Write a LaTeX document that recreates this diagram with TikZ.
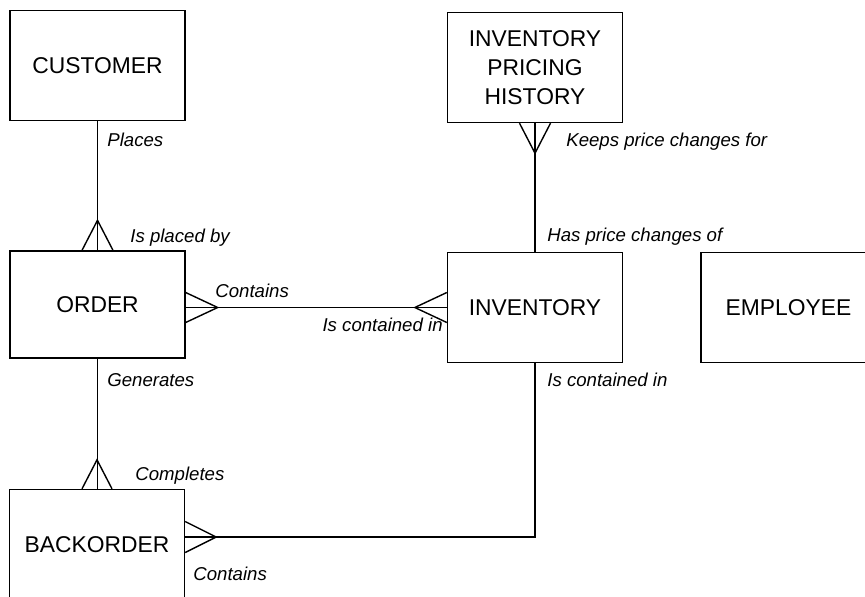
\documentclass[tikz,border=0pt]{standalone}
\usepackage{fontspec}
\setmainfont{Liberation Sans}
\begin{document}
\begin{tikzpicture}[x=0.02cm,y=-0.02cm,
  entity/.style={draw,line width=0.8pt,minimum width=3.5cm,minimum height=2.2cm,
    inner sep=0pt,align=center,font=\fontsize{13}{16.7}\selectfont},
  rel/.style={line width=0.8pt},
  role/.style={inner sep=0pt,font=\fontsize{10.6}{12}\selectfont\itshape}]
  \clip (0,0) rectangle (865,596);
  \node [entity] (cust) at (97.5,65.5) {CUSTOMER};
  \node [entity] (hist) at (535,67.5) {INVENTORY\\PRICING\\HISTORY};
  \node [entity,minimum height=2.14cm] (order) at (97.5,304.5) {ORDER};
  \node [entity] (inv) at (535,307.5) {INVENTORY};
  \node [entity] (emp) at (788.5,307.5) {EMPLOYEE};
  \node [entity] (back) at (97,544.5) {BACKORDER};
  % relationships
  \draw [rel] (cust.south) -- (order.north);
  \draw [rel] (order.east |- inv.west) -- (inv.west);
  \draw [rel] (hist.south) -- (inv.north);
  \draw [rel] (order.south) -- (order.south |- back.north);
  \draw [rel] (inv.south) |- ([yshift=0.15cm]back.east);
  % crow's feet
  \draw [rel] ([xshift=-0.31cm]order.north) -- ([yshift=0.6cm]order.north) -- ([xshift=0.31cm]order.north);
  \draw [rel] ([yshift=0.3cm]order.east |- inv.west) -- ([xshift=0.64cm]order.east |- inv.west) -- ([yshift=-0.3cm]order.east |- inv.west);
  \draw [rel] ([yshift=0.3cm]inv.west) -- ([xshift=-0.64cm]inv.west) -- ([yshift=-0.3cm]inv.west);
  \draw [rel] ([xshift=-0.31cm]hist.south) -- ([yshift=-0.6cm]hist.south) -- ([xshift=0.31cm]hist.south);
  \draw [rel] ([xshift=-0.3cm]back.north) -- ([yshift=0.58cm]back.north) -- ([xshift=0.3cm]back.north);
  \draw [rel] ([yshift=0.46cm]back.east) -- ([xshift=0.62cm,yshift=0.15cm]back.east) -- ([yshift=-0.16cm]back.east);
  % role names
  \node [role,anchor=west] (places) at (107,140) {Places};
  \node [role,anchor=west] (placedby) at (130,238) {Is placed by};
  \node [role,anchor=west] (ocontains) at (215,291) {Contains};
  \node [role,anchor=east] (icontained) at (443,325) {Is contained in};
  \node [role,anchor=west] (generates) at (107,380) {Generates};
  \node [role,anchor=west] (completes) at (135,476) {Completes};
  \node [role,anchor=west] (bcontains) at (193,574) {Contains};
  \node [role,anchor=west] (keeps) at (566,142) {Keeps price changes for};
  \node [role,anchor=west] (haschanges) at (547,237) {Has price changes of};
  \node [role,anchor=west] (bcontained) at (547,380) {Is contained in};
\end{tikzpicture}
\end{document}
